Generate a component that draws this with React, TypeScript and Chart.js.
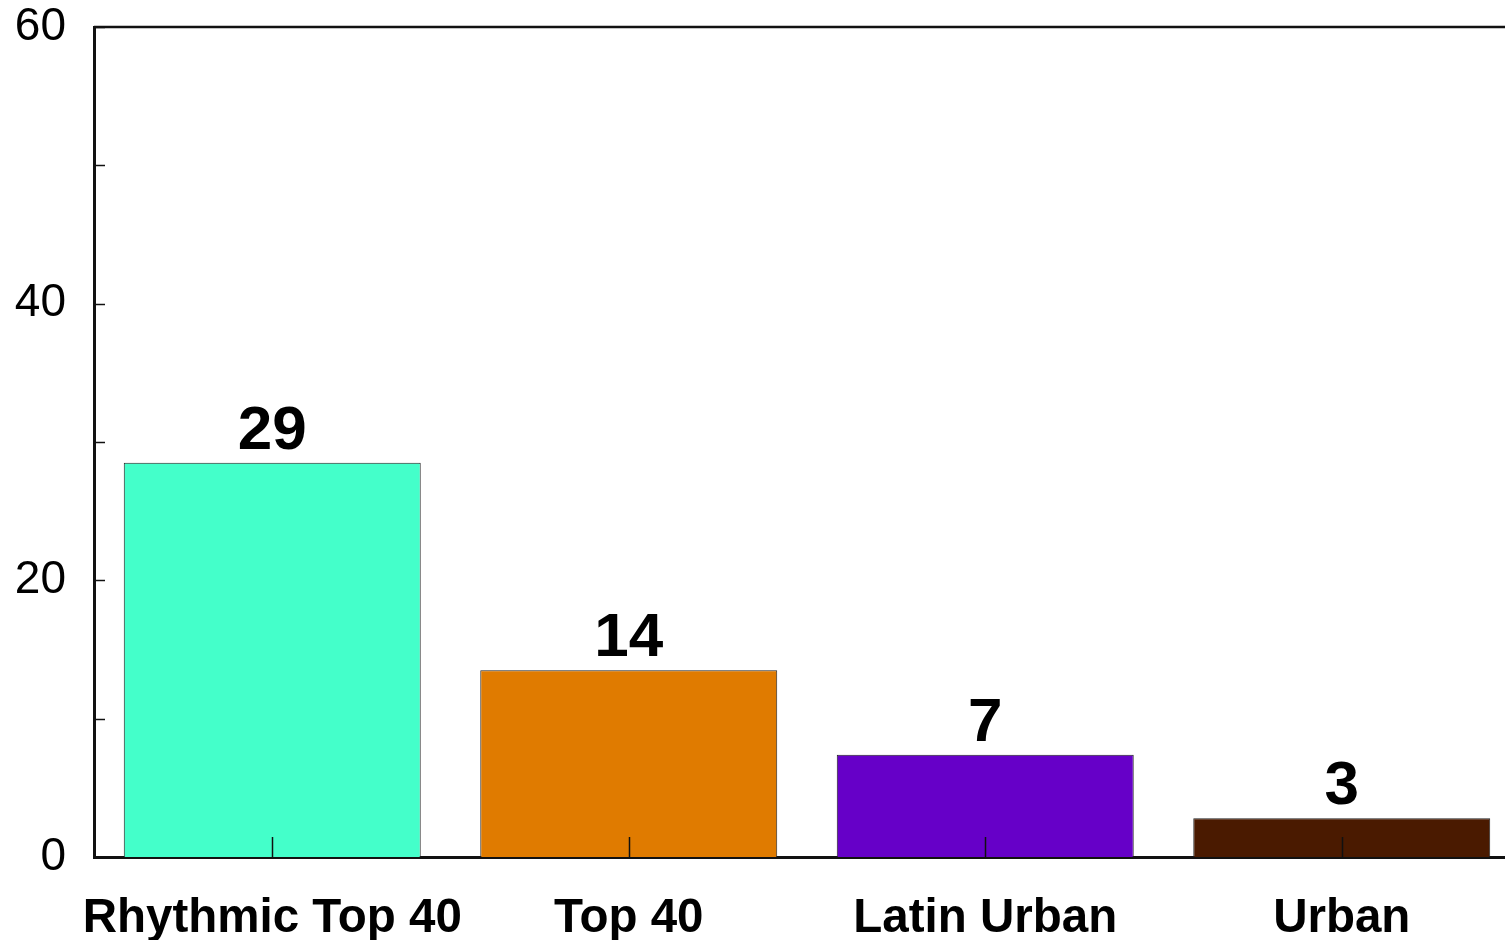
import React, { useEffect, useRef } from "react";
import { Chart, registerables } from "chart.js";

Chart.register(...registerables);

const categories = ["Rhythmic Top 40", "Top 40", "Latin Urban", "Urban"];
const values = [28.5, 13.5, 7.4, 2.8];
const valueLabels = ["29", "14", "7", "3"];
const barColors = ["#44FFCA", "#E07B00", "#6600C8", "#4A1A00"];
const yTickLabels: Record<number, string> = { 0: "0", 20: "20", 40: "40", 60: "60" };

const FONT = "'Liberation Sans', Arial, Helvetica, sans-serif";

const decorPlugin = {
  id: "decor",
  afterDatasetsDraw(chart: any) {
    const { ctx, chartArea, scales } = chart;
    const x = scales.x;
    const y = scales.y;
    ctx.save();
    ctx.strokeStyle = "#111";
    ctx.lineWidth = 1.5;
    x.ticks.forEach((_t: any, i: number) => {
      const px = Math.round(x.getPixelForTick(i)) + 0.5;
      ctx.beginPath();
      ctx.moveTo(px, chartArea.bottom);
      ctx.lineTo(px, chartArea.bottom - 20);
      ctx.stroke();
    });
    y.ticks.forEach((t: any) => {
      const py = Math.round(y.getPixelForValue(t.value)) + 0.5;
      ctx.beginPath();
      ctx.moveTo(chartArea.left, py);
      ctx.lineTo(chartArea.left + 11, py);
      ctx.stroke();
    });
    ctx.strokeStyle = "#111";
    ctx.lineWidth = 2.5;
    ctx.beginPath();
    ctx.moveTo(chartArea.left, chartArea.top);
    ctx.lineTo(chartArea.right + 5, chartArea.top);
    ctx.stroke();
    const meta = chart.getDatasetMeta(0);
    ctx.fillStyle = "#000";
    ctx.font = `bold 62px ${FONT}`;
    ctx.textAlign = "center";
    ctx.textBaseline = "alphabetic";
    meta.data.forEach((bar: any, i: number) => {
      ctx.fillText(valueLabels[i], bar.x, bar.y - 14);
    });
    ctx.restore();
  },
};

export default function App() {
  const ref = useRef<HTMLCanvasElement | null>(null);
  useEffect(() => {
    if (!ref.current) return;
    const chart = new Chart(ref.current, {
      type: "bar",
      data: {
        labels: categories,
        datasets: [
          {
            data: values,
            backgroundColor: barColors,
            borderColor: "#222",
            borderWidth: 1,
            categoryPercentage: 1,
            barPercentage: 0.833,
          },
        ],
      },
      options: {
        animation: false,
        responsive: false,
        devicePixelRatio: 1,
        layout: { padding: { top: 27, right: 0, left: 0, bottom: 0 } },
        plugins: {
          legend: { display: false },
          tooltip: { enabled: false },
          title: { display: false },
        },
        scales: {
          x: {
            grid: { display: false, drawTicks: false },
            border: { display: true, color: "#111", width: 3 },
            ticks: {
              color: "#000",
              font: { family: FONT, size: 47.5, weight: "bold" },
              padding: 33,
              maxRotation: 0,
              autoSkip: false,
            },
            afterFit(scale: any) {
              scale.height = 83;
              scale.paddingLeft = 0;
              scale.paddingRight = 0;
            },
          },
          y: {
            min: 0,
            max: 60,
            grid: { display: false, drawTicks: false },
            border: { display: true, color: "#111", width: 3 },
            ticks: {
              stepSize: 10,
              color: "#000",
              padding: 28,
              font: { family: FONT, size: 46 },
              callback: (v: any) => yTickLabels[v as number] ?? "",
            },
            afterFit(scale: any) {
              scale.width = 94;
              scale.paddingTop = 0;
              scale.paddingBottom = 0;
            },
          },
        },
      },
      plugins: [decorPlugin],
    });
    return () => chart.destroy();
  }, []);
  return (
    <div
      style={{
        position: "fixed",
        left: 0,
        top: 0,
        width: 1505,
        height: 940,
        overflow: "hidden",
        background: "#fff",
      }}
    >
      <canvas ref={ref} width={1520} height={940} style={{ display: "block" }} />
    </div>
  );
}
